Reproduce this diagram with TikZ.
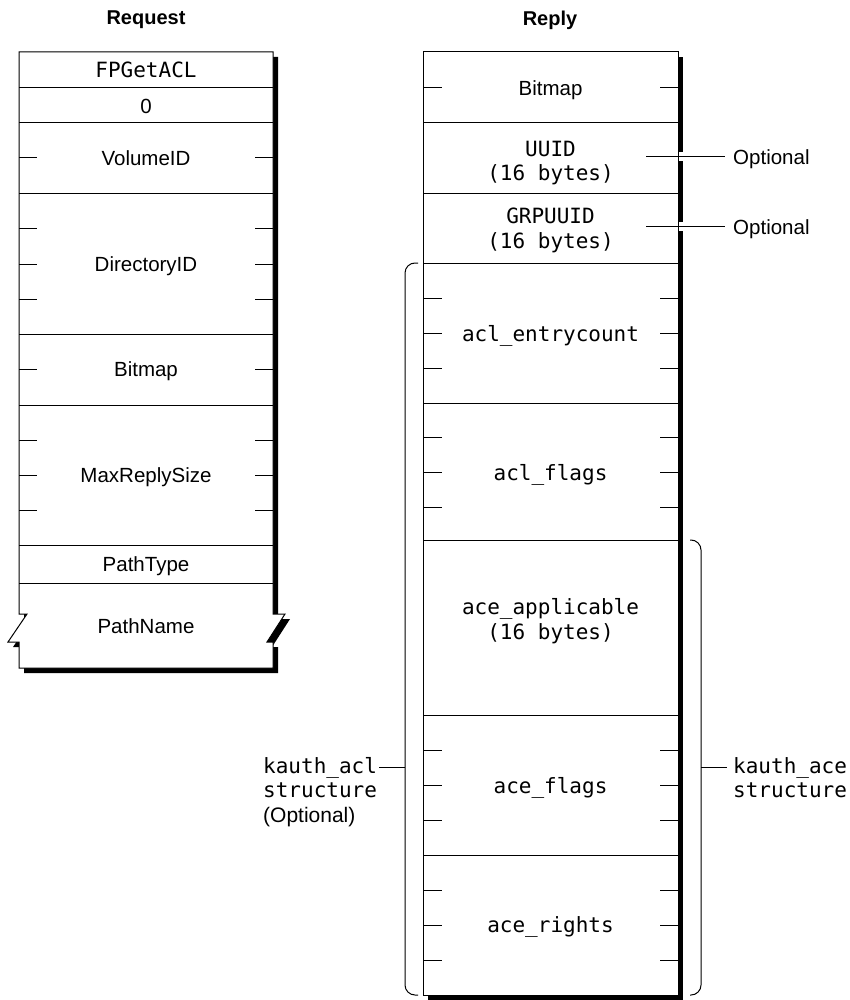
\documentclass[tikz,border=0pt]{standalone}
\usepackage{fontspec}
\setmainfont{Liberation Sans}
\setsansfont{Liberation Sans}
\setmonofont{DejaVu Sans Mono}
\usetikzlibrary{positioning, calc}

\begin{document}
\begin{tikzpicture}[x=1pt, y=-1pt,
  field/.style={font=\fontsize{20.5}{24.5}\selectfont, inner sep=0pt, text depth=0pt},
  code/.style={font=\fontsize{21}{24.5}\selectfont\ttfamily, align=center, inner sep=0pt, text depth=0pt},
  heading/.style={font=\fontsize{20}{24}\selectfont\bfseries},
  rule/.style={line width=1pt},
  drop/.style={preaction={fill=black, transform canvas={shift={(5pt,-5pt)}}}},
  halo/.style={line width=1pt, preaction={draw=white, line width=9pt}},
  brace/.style={line width=1pt, rounded corners=10pt}
]
\useasboundingbox (0,0) rectangle (849,1000);

\node[heading] (req) at (146,20) {Request};
\node[heading] (rep) at (550,20) {Reply};

\path[rule, draw, fill=white, drop] (19,52) -- (273,52) -- (273,614) -- (285,614) -- (267,642) -- (273,642) -- (273,668) -- (19,668) -- (19,642) -- (8,642) -- (27,614) -- (19,614) -- cycle;
\foreach \y in {88,123,194,334,405,545,583} \draw[rule] (19,\y) -- (273,\y);
\foreach \y in {158,229,264,299,369,440,475,510} {
  \draw[rule] (19,\y) -- ++(18,0);
  \draw[rule] (273,\y) -- ++(-18,0);
}

\node[code] (fpget) at (146,70) {FPGetACL};
\node[field] (zero) at (146,106) {0};
\node[field] (vol) at (146,158.5) {VolumeID};
\node[field] (dir) at (146,264) {DirectoryID};
\node[field] (bmpQ) at (146,369.5) {Bitmap};
\node[field] (maxr) at (146,475) {MaxReplySize};
\node[field] (ptype) at (146,564) {PathType};
\node[field] (pname) at (146,626) {PathName};

\fill (428,57) rectangle (683,1000.5);
\fill[white] (423,52) rectangle (678,995);
\coordinate (uuidR) at (646,157);
\coordinate (grpR) at (646,227);
\node[field, anchor=west, inner xsep=8pt] (optA) at (725,157) {Optional};
\node[field, anchor=west, inner xsep=8pt] (optB) at (725,227) {Optional};
\draw[halo] (uuidR) -- (optA.west);
\draw[halo] (grpR) -- (optB.west);
\draw[rule] (423,52) rectangle (678,995);
\foreach \y in {123,194,263,403,540,715,855} \draw[rule] (423,\y) -- (678,\y);
\foreach \y in {88,298,333,368,437,472,507,750,785,820,890,925,960} {
  \draw[rule] (423,\y) -- ++(19,0);
  \draw[rule] (678,\y) -- ++(-18,0);
}

\node[field] (bmpR) at (550.5,88) {Bitmap};
\node[code] (uuid) at (550.5,161) {UUID\\(16 bytes)};
\node[code] (grp) at (550.5,228) {GRPUUID\\(16 bytes)};
\node[code] (cnt) at (550.5,333) {acl\_entrycount};
\node[code] (flg) at (550.5,472) {acl\_flags};
\node[code] (appl) at (550.5,619) {ace\_applicable\\(16 bytes)};
\node[code] (aflg) at (550.5,785) {ace\_flags};
\node[code] (arts) at (550.5,925) {ace\_rights};

\draw[brace] (418,263) -- (405,263) -- (405,995) -- (418,995);
\draw[brace] (690,540) -- (701,540) -- (701,995) -- (690,995);
\coordinate (aclMid) at (405,767);
\coordinate (aceMid) at (701,767);
\node[code, align=left, anchor=north west, inner xsep=2pt] (aclLbl) at (261,757) {kauth\_acl\\structure\\{\rmfamily(Optional)}};
\node[code, align=left, anchor=north west, inner xsep=6pt] (aceLbl) at (727,757) {kauth\_ace\\structure};
\draw[rule] (aclMid) -- (aclMid -| aclLbl.east);
\draw[rule] (aceMid) -- (aceMid -| aceLbl.west);
\end{tikzpicture}
\end{document}
